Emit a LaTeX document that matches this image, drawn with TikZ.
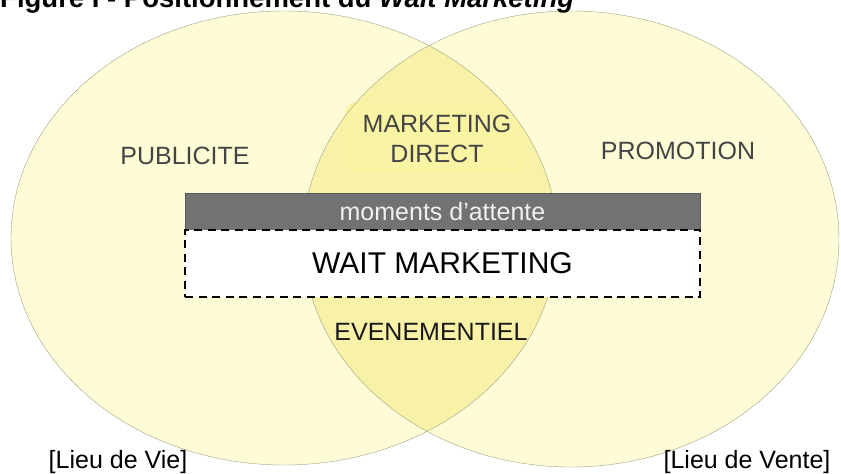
\documentclass[tikz,border=0pt]{standalone}
\usepackage{fontspec}
\setmainfont{Liberation Sans}
\usepackage{xcolor}
\usepackage{tikz}
\usetikzlibrary{positioning}
\definecolor{venn}{HTML}{FEFCD6}
\definecolor{lens}{HTML}{F8F2A8}
\definecolor{glow}{HTML}{F9F4A3}
\definecolor{rim}{HTML}{A3A184}
\definecolor{bar}{HTML}{727272}
\definecolor{zonetext}{HTML}{444444}
\tikzstyle{zone} = [text=zonetext, font=\fontsize{25}{30}\selectfont, align=center, inner sep=0pt]
\tikzstyle{place} = [font=\fontsize{25}{30}\selectfont, inner sep=0pt]
\tikzstyle{band} = [rectangle, minimum width=515pt, minimum height=37pt, draw=black!65, fill=bar, text=white!94!black, font=\fontsize{25}{30}\selectfont]
\tikzstyle{wait} = [rectangle, minimum width=515pt, minimum height=67pt, draw=black, line width=1.3pt, dash pattern=on 8pt off 5.5pt, fill=white, font=\fontsize{30}{36}\selectfont]

\begin{document}
\begin{tikzpicture}[x=1pt, y=-1pt]
    \useasboundingbox (0,0) rectangle (841,474);
    \clip (0,0) rectangle (841,474);
    % the two places and their overlap
    \fill[venn] (284,238) ellipse [x radius=273pt, y radius=227pt];
    \fill[venn] (571,239) ellipse [x radius=268pt, y radius=228pt];
    \begin{scope}
        \clip (284,238) ellipse [x radius=273pt, y radius=227pt];
        \fill[lens] (571,239) ellipse [x radius=268pt, y radius=228pt];
        \fill[glow, rounded corners=12pt] (345,102) rectangle (525,172);
    \end{scope}
    \draw[rim] (284,238) ellipse [x radius=273pt, y radius=227pt];
    \draw[rim] (571,239) ellipse [x radius=268pt, y radius=228pt];
    \node (title) [anchor=base west, font=\bfseries\fontsize{27.5}{32}\selectfont, inner sep=0pt] at (0,7) {Figure I - Positionnement du \textit{Wait Marketing}};
    \node (pub) [zone] at (185,156) {PUBLICITE};
    \node (direct) [zone, text depth=0pt] at (437,139) {MARKETING\\DIRECT};
    \node (promo) [zone] at (678,151) {PROMOTION};
    \node (band) [band] at (442.5,211.5) {moments d'attente};
    \node (waitmk) [wait, below of=band, node distance=52pt] {WAIT MARKETING};
    \node (event) [zone, text=black!90] at (431,332) {EVENEMENTIEL};
    \node (vie) [place] at (118,462) {[Lieu de Vie]};
    \node (vente) [place] at (747,462) {[Lieu de Vente]};
\end{tikzpicture}
\end{document}
